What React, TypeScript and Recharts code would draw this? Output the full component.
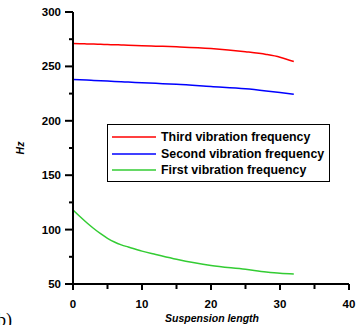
import { LineChart, Line, XAxis, YAxis, Legend, Customized } from "recharts";

const suspension = [0, 1, 2, 3, 4, 5, 6, 7, 8, 10, 12, 15, 20, 25, 28, 30, 32];
const thirdFreq = [271, 270.9, 270.7, 270.5, 270.3, 270.1, 269.9, 269.7, 269.5, 269, 268.6, 268, 266.5, 263.5, 261, 258.5, 254.5];
const secondFreq = [238, 237.7, 237.4, 237.1, 236.8, 236.5, 236.2, 235.9, 235.6, 235, 234.4, 233.5, 231.5, 229.5, 227.5, 226, 224.3];
const firstFreq = [118, 112, 106.3, 101, 96.2, 92, 88.6, 86, 84, 80.2, 77.2, 72.8, 67, 63.5, 61, 59.8, 59.3];

const xTicks = [0, 5, 10, 15, 20, 25, 30, 35, 40];
const yTicks = [50, 75, 100, 125, 150, 175, 200, 225, 250, 275, 300];

const seriesNames = [
    "Third vibration frequency",
    "Second vibration frequency",
    "First vibration frequency",
];
const seriesColors = ["#ff0000", "#0000ff", "#33cc33"];

const data = suspension.map((x, i) => ({
    x,
    third: thirdFreq[i],
    second: secondFreq[i],
    first: firstFreq[i],
}));

const FONT = "Arial, 'Liberation Sans', sans-serif";

function XTick(props: any) {
    const { x, y, payload } = props;
    const major = payload.value % 10 === 0;
    return (
        <g>
            <line x1={x} x2={x} y1={y} y2={y + (major ? 6 : 5)} stroke="#000" strokeWidth={2} />
            {major && (
                <text x={x} y={y + 24} textAnchor="middle" fontFamily={FONT} fontWeight="bold" fontSize={11.5} fill="#000">
                    {payload.value}
                </text>
            )}
        </g>
    );
}

function YTick(props: any) {
    const { x, y, payload } = props;
    const major = payload.value % 50 === 0;
    return (
        <g>
            <line x1={x - (major ? 8 : 4)} x2={x} y1={y} y2={y} stroke="#000" strokeWidth={2} />
            {major && (
                <text x={x - 12} y={y + 4} textAnchor="end" fontFamily={FONT} fontWeight="bold" fontSize={11.5} fill="#000">
                    {payload.value}
                </text>
            )}
        </g>
    );
}

function LegendBox() {
    return (
        <div
            style={{
                border: "1px solid #000",
                background: "#fff",
                padding: "4px 0 4px 4px",
                boxSizing: "border-box",
                width: 223,
                height: 58,
            }}
        >
            {seriesNames.map((name, i) => (
                <div key={name} style={{ display: "flex", alignItems: "center", height: 16.5 }}>
                    <svg width={46} height={4} style={{ marginRight: 3 }}>
                        <line x1={0} x2={44} y1={2} y2={2} stroke={seriesColors[i]} strokeWidth={1.5} />
                    </svg>
                    <span style={{ fontFamily: FONT, fontWeight: "bold", fontSize: 12.4, color: "#000", whiteSpace: "nowrap" }}>
                        {name}
                    </span>
                </div>
            ))}
        </div>
    );
}

export default function App() {
    return (
        <div style={{ position: "fixed", left: 0, top: 0, width: 362, height: 325, background: "#fff" }}>
            <LineChart width={362} height={325} data={data} margin={{ top: 12, right: 13, left: 0, bottom: 0 }}>
                <XAxis
                    dataKey="x"
                    type="number"
                    domain={[0, 40]}
                    ticks={xTicks}
                    interval={0}
                    height={41}
                    tickSize={0}
                    tickMargin={0}
                    tick={<XTick />}
                    axisLine={{ stroke: "#000", strokeWidth: 2 }}
                />
                <YAxis
                    type="number"
                    domain={[50, 300]}
                    ticks={yTicks}
                    interval={0}
                    width={73}
                    tickSize={0}
                    tickMargin={0}
                    tick={<YTick />}
                    axisLine={{ stroke: "#000", strokeWidth: 2 }}
                />
                <Line type="monotone" dataKey="third" stroke={seriesColors[0]} strokeWidth={1.5} dot={false} isAnimationActive={false} />
                <Line type="monotone" dataKey="second" stroke={seriesColors[1]} strokeWidth={1.5} dot={false} isAnimationActive={false} />
                <Line type="monotone" dataKey="first" stroke={seriesColors[2]} strokeWidth={1.5} dot={false} isAnimationActive={false} />
                <Legend
                    layout="vertical"
                    verticalAlign="middle"
                    align="center"
                    content={() => <LegendBox />}
                    wrapperStyle={{ left: 107, top: 124, width: 223, height: 58 }}
                />
                <Customized
                    component={() => (
                        <g>
                            <text
                                transform="translate(24,148) rotate(-90)"
                                textAnchor="middle"
                                fontFamily={FONT}
                                fontWeight="bold"
                                fontStyle="italic"
                                fontSize={10.5}
                                fill="#000"
                            >
                                Hz
                            </text>
                            <text x={212} y={322} textAnchor="middle" fontFamily={FONT} fontWeight="bold" fontStyle="italic" fontSize={10.5} fill="#000">
                                Suspension length
                            </text>
                            <text x={-3} y={326} fontFamily="'Liberation Serif', 'Times New Roman', serif" fontSize={18} fill="#000">
                                b)
                            </text>
                        </g>
                    )}
                />
            </LineChart>
        </div>
    );
}
